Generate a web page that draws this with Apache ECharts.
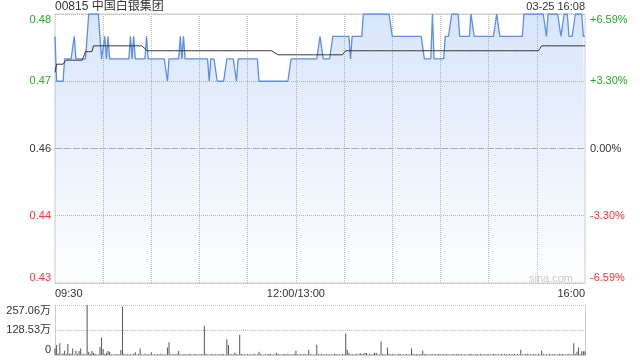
<!DOCTYPE html>
<html><head><meta charset="utf-8">
<script src="https://cdn.jsdelivr.net/npm/echarts@6/dist/echarts.min.js"></script>
<style>html,body{margin:0;padding:0;background:#fff}#c{width:640px;height:360px}</style>
</head><body><div id="c"></div>
<script>
const titleText = '00815 中国白银集团';
const dateText = '03-25 16:08';
const prevClose = 0.455;
const yTicks = [0.425, 0.44, 0.455, 0.47, 0.485];
const leftLabels = ['0.43', '0.44', '0.46', '0.47', '0.48'];
const rightLabels = ['-6.59%', '-3.30%', '0.00%', '+3.30%', '+6.59%'];
const labelColors = ['#ff3333', '#ff3333', '#333333', '#22aa22', '#22aa22'];
const xLabelIdx = [0, 150, 330];
const xLabelText = ['09:30', '12:00/13:00', '16:00'];
const volTicks = [0, 128.53, 257.06];
const volLabels = ['0', '128.53万', '257.06万'];

const price = [
0.48,0.47,0.47,0.47,0.47,0.47,0.475,0.475,0.475,0.475,
0.475,0.475,0.48,0.475,0.475,0.475,0.475,0.475,0.475,0.475,
0.48,0.485,0.485,0.485,0.485,0.485,0.485,0.485,0.485,0.475,
0.475,0.48,0.475,0.48,0.475,0.475,0.475,0.475,0.475,0.475,
0.475,0.475,0.475,0.475,0.475,0.475,0.475,0.48,0.475,0.48,
0.475,0.475,0.475,0.475,0.475,0.475,0.475,0.48,0.475,0.475,
0.475,0.475,0.475,0.475,0.475,0.475,0.475,0.475,0.475,0.475,
0.47,0.475,0.475,0.475,0.475,0.475,0.475,0.475,0.48,0.475,
0.48,0.475,0.475,0.475,0.475,0.475,0.475,0.475,0.475,0.475,
0.475,0.475,0.475,0.475,0.475,0.475,0.47,0.475,0.475,0.475,
0.475,0.47,0.47,0.47,0.47,0.47,0.47,0.475,0.475,0.475,
0.475,0.475,0.475,0.47,0.475,0.475,0.475,0.475,0.475,0.475,
0.475,0.475,0.475,0.475,0.475,0.475,0.475,0.47,0.47,0.47,
0.47,0.47,0.47,0.47,0.47,0.47,0.47,0.47,0.47,0.47,
0.47,0.47,0.47,0.47,0.47,0.47,0.47,0.475,0.475,0.475,
0.475,0.475,0.475,0.475,0.475,0.475,0.475,0.475,0.475,0.475,
0.475,0.475,0.475,0.475,0.475,0.48,0.48,0.475,0.475,0.475,
0.475,0.475,0.475,0.48,0.48,0.48,0.48,0.48,0.48,0.48,
0.48,0.48,0.48,0.48,0.475,0.48,0.48,0.48,0.48,0.48,
0.48,0.48,0.485,0.485,0.485,0.485,0.485,0.485,0.485,0.485,
0.485,0.485,0.485,0.485,0.485,0.485,0.485,0.485,0.485,0.485,
0.48,0.48,0.48,0.48,0.48,0.48,0.48,0.48,0.48,0.48,
0.48,0.48,0.48,0.48,0.48,0.48,0.48,0.48,0.48,0.48,
0.475,0.475,0.475,0.475,0.475,0.485,0.475,0.475,0.475,0.475,
0.475,0.475,0.475,0.48,0.48,0.48,0.48,0.485,0.485,0.485,
0.485,0.485,0.48,0.48,0.48,0.48,0.48,0.48,0.48,0.485,
0.485,0.48,0.48,0.48,0.48,0.48,0.48,0.48,0.48,0.48,
0.48,0.48,0.48,0.48,0.48,0.485,0.485,0.48,0.48,0.48,
0.48,0.48,0.48,0.48,0.48,0.48,0.48,0.48,0.48,0.48,
0.48,0.48,0.485,0.485,0.485,0.485,0.485,0.485,0.485,0.485,
0.485,0.485,0.485,0.485,0.485,0.485,0.48,0.485,0.485,0.485,
0.485,0.485,0.485,0.485,0.485,0.48,0.48,0.485,0.485,0.485,
0.48,0.48,0.48,0.48,0.485,0.485,0.485,0.485,0.485,0.48,
0.48
];

const avg = [
0.472,0.4738,0.4738,0.4738,0.4738,0.4738,0.4738,0.4747,0.4747,0.4747,
0.4747,0.4747,0.4747,0.4747,0.4747,0.4747,0.4747,0.4747,0.4747,0.4766,
0.4766,0.4766,0.4766,0.4766,0.4779,0.4779,0.4779,0.4779,0.4779,0.4779,
0.4779,0.4779,0.4779,0.4779,0.4779,0.4779,0.4779,0.4779,0.4779,0.4779,
0.4779,0.4779,0.4779,0.4779,0.4779,0.4779,0.4779,0.4779,0.4779,0.4779,
0.4779,0.4779,0.4779,0.4779,0.4779,0.4779,0.4773,0.4768,0.4768,0.4768,
0.4768,0.4768,0.4768,0.4768,0.4768,0.4768,0.4768,0.4768,0.4768,0.4768,
0.4768,0.4768,0.4768,0.4768,0.4768,0.4768,0.4768,0.4768,0.4768,0.4768,
0.4768,0.4768,0.4768,0.4768,0.4768,0.4768,0.4768,0.4768,0.4768,0.4768,
0.4768,0.4768,0.4768,0.4768,0.4768,0.4768,0.4768,0.4768,0.4768,0.4768,
0.4768,0.4768,0.4768,0.4768,0.4768,0.4768,0.4768,0.4768,0.4768,0.4768,
0.4768,0.4768,0.4768,0.4768,0.4768,0.4768,0.4768,0.4768,0.4768,0.4768,
0.4768,0.4768,0.4768,0.4768,0.4768,0.4768,0.4768,0.4768,0.4768,0.4768,
0.4768,0.4768,0.4768,0.4768,0.4768,0.4768,0.4768,0.4763,0.4759,0.4759,
0.4759,0.4759,0.4759,0.4759,0.4759,0.4759,0.4759,0.4759,0.4759,0.4759,
0.4759,0.4759,0.4759,0.4759,0.4759,0.4759,0.4759,0.4759,0.4759,0.4759,
0.4759,0.4759,0.4759,0.4759,0.4759,0.4759,0.4759,0.4759,0.4759,0.4759,
0.4759,0.4759,0.4759,0.4759,0.4759,0.4759,0.4759,0.4759,0.4759,0.4759,
0.4763,0.4768,0.4768,0.4768,0.4768,0.4768,0.4768,0.4768,0.4768,0.4768,
0.4768,0.4768,0.4768,0.4768,0.4768,0.4768,0.4768,0.4768,0.4768,0.4768,
0.4768,0.4768,0.4768,0.4768,0.4768,0.4768,0.4768,0.4768,0.4768,0.4768,
0.4768,0.4768,0.4768,0.4768,0.4768,0.4768,0.4768,0.4768,0.4768,0.4768,
0.4768,0.4768,0.4768,0.4768,0.4768,0.4768,0.4768,0.4768,0.4768,0.4768,
0.4768,0.4768,0.4768,0.4768,0.4768,0.4768,0.4768,0.4768,0.4768,0.4768,
0.4768,0.4768,0.4768,0.4768,0.4768,0.4768,0.4768,0.4768,0.4768,0.4768,
0.4768,0.4768,0.4768,0.4768,0.4768,0.4768,0.4768,0.4768,0.4768,0.4768,
0.4768,0.4768,0.4768,0.4768,0.4768,0.4768,0.4768,0.4768,0.4768,0.4768,
0.4768,0.4768,0.4768,0.4768,0.4768,0.4768,0.4768,0.4768,0.4768,0.4768,
0.4768,0.4768,0.4768,0.4768,0.4768,0.4768,0.4768,0.4768,0.4768,0.4768,
0.4768,0.4768,0.4768,0.4768,0.4768,0.4768,0.4768,0.4768,0.4768,0.4768,
0.4768,0.4768,0.4773,0.4779,0.4779,0.4779,0.4779,0.4779,0.4779,0.4779,
0.4779,0.4779,0.4779,0.4779,0.4779,0.4779,0.4779,0.4779,0.4779,0.4779,
0.4779,0.4779,0.4779,0.4779,0.4779,0.4779,0.4779,0.4779,0.4779,0.4779,
0.4779
];

const volume = [
34,51,8,60,4,9,22,5,57,6,
8,34,3,22,5,20,34,4,6,3,
257.06,17,5,20,12,6,3,4,43,91,
31,5,12,20,17,4,3,2,5,3,
4,26,248,6,3,5,2,4,3,6,
14,3,5,34,4,2,6,3,5,2,
14,3,4,2,5,3,6,2,4,3,
39,65,4,3,5,2,6,20,3,4,
2,5,3,4,6,2,3,5,4,2,
3,5,4,149,6,3,2,4,5,3,
4,2,5,3,6,4,3,81,51,5,
3,4,13,5,2,104,6,3,4,2,
5,3,4,2,6,3,4,17,5,3,
2,4,3,5,6,2,3,4,12,5,
3,2,4,5,3,6,2,4,3,5,
22,4,3,5,2,6,3,4,27,5,
3,2,4,53,5,3,6,2,4,3,
5,2,4,3,6,5,2,4,3,5,
4,110,27,10,3,5,2,4,6,3,
10,4,5,10,10,3,6,2,5,12,
12,4,3,70,5,2,4,38,6,3,
5,4,2,3,6,5,3,4,2,5,
3,4,34,6,2,5,3,4,5,22,
4,6,3,2,5,4,3,5,2,6,
3,4,5,2,6,3,4,2,5,3,
4,6,2,5,3,4,2,3,5,6,
3,2,4,5,3,6,2,4,3,5,
4,3,2,6,5,3,4,2,5,3,
6,4,3,5,2,4,6,3,5,2,
27,4,3,5,6,2,4,3,5,4,
3,6,2,22,5,3,4,2,6,3,
5,4,3,2,6,4,5,3,2,4,
6,3,4,60,5,17,39,4,19,19,
19
];

// minute categories: 09:30-11:59 then 13:00-16:00
const cats = [];
function pad(n){return (n<10?'0':'')+n;}
for (let t = 9*60+30; t < 12*60; t++) cats.push(pad(Math.floor(t/60))+':'+pad(t%60));
for (let t = 13*60; t <= 16*60; t++) cats.push(pad(Math.floor(t/60))+':'+pad(t%60));

const FONT = '"Liberation Sans", Arial, "Noto Sans CJK SC", sans-serif';
function tickIndex(v, arr){ for (let k=0;k<arr.length;k++){ if (Math.abs(arr[k]-v) < 1e-6) return k; } return -1; }
const dotted = {color: '#bbbbbb', type: 'dotted', width: 1};

const chart = echarts.init(document.getElementById('c'), null, {renderer:'canvas'});
chart.setOption({
  animation: false,
  textStyle: {fontFamily: FONT},
  title: [
    {text: titleText, left: 55, top: 1, padding: 0, textStyle: {fontSize: 12, fontWeight: 'normal', color: '#333', fontFamily: FONT}},
    {text: dateText, right: 55, top: 1, padding: 0, textStyle: {fontSize: 11, fontWeight: 'normal', color: '#333', fontFamily: FONT}},
    {text: 'sina.com', right: 67, top: 273, padding: 0, textStyle: {fontSize: 11, fontWeight: 'normal', color: '#cccccc', fontFamily: FONT}}
  ],
  grid: [
    {left: 55, right: 55, top: 14, bottom: 77, show: true, borderColor: '#cccccc', borderWidth: 1, backgroundColor: 'transparent'},
    {left: 55, right: 55, top: 305, bottom: 5}
  ],
  xAxis: [
    {type: 'category', gridIndex: 0, data: cats, boundaryGap: false,
     axisLine: {show: false}, axisTick: {show: false},
     axisLabel: {interval: function(i){ return xLabelIdx.indexOf(i) >= 0; },
       formatter: function(v, i){ const k = xLabelIdx.indexOf(i); return k >= 0 ? xLabelText[k] : ''; },
       alignMinLabel: 'left', alignMaxLabel: 'right', showMinLabel: true, showMaxLabel: true,
       margin: 5, fontSize: 11, color: '#333', fontFamily: FONT},
     splitLine: {show: true, interval: function(i){ return i % 30 === 0 && i !== 0 && i !== 330; },
       lineStyle: dotted}},
    {type: 'category', gridIndex: 1, data: cats, boundaryGap: false,
     axisLine: {show: true, lineStyle: {color: '#cccccc'}}, axisTick: {show: false},
     axisLabel: {show: false}, splitLine: {show: false}}
  ],
  yAxis: [
    {type: 'value', gridIndex: 0, min: yTicks[0], max: yTicks[yTicks.length-1], position: 'left',
     axisLine: {show: false}, axisTick: {show: false, customValues: yTicks},
     axisLabel: {customValues: yTicks, margin: 4, fontSize: 11, fontFamily: FONT,
       verticalAlignMinLabel: 'bottom', verticalAlignMaxLabel: 'top',
       formatter: function(v){ const k = tickIndex(v, yTicks); return k >= 0 ? leftLabels[k] : ''; },
       color: function(v){ const k = tickIndex(v, yTicks); return k >= 0 ? labelColors[k] : '#333'; }},
     splitLine: {show: true, lineStyle: dotted}},
    {type: 'value', gridIndex: 0, min: yTicks[0], max: yTicks[yTicks.length-1], position: 'right',
     axisLine: {show: false}, axisTick: {show: false, customValues: yTicks},
     axisLabel: {customValues: yTicks, margin: 5, fontSize: 11, fontFamily: FONT,
       verticalAlignMinLabel: 'bottom', verticalAlignMaxLabel: 'top',
       formatter: function(v){ const k = tickIndex(v, yTicks); return k >= 0 ? rightLabels[k] : ''; },
       color: function(v){ const k = tickIndex(v, yTicks); return k >= 0 ? labelColors[k] : '#333'; }},
     splitLine: {show: false}},
    {type: 'value', gridIndex: 1, min: volTicks[0], max: volTicks[2], interval: volTicks[1], position: 'left',
     axisLine: {show: true, lineStyle: {color: '#cccccc'}}, axisTick: {show: false},
     axisLabel: {margin: 4, fontSize: 11, color: '#333', fontFamily: FONT,
       verticalAlignMinLabel: 'bottom', verticalAlignMaxLabel: 'top',
       formatter: function(v){ const k = tickIndex(v, volTicks); return k >= 0 ? volLabels[k] : ''; }},
     splitLine: {show: true, lineStyle: dotted}},
    {type: 'value', gridIndex: 1, min: volTicks[0], max: volTicks[2], interval: volTicks[1], position: 'right',
     axisLine: {show: true, lineStyle: {color: '#cccccc'}}, axisTick: {show: false},
     axisLabel: {show: false}, splitLine: {show: false}}
  ],
  series: [
    {type: 'line', xAxisIndex: 0, yAxisIndex: 0, data: price, showSymbol: false, symbol: 'none',
     lineStyle: {color: '#5b8fe9', width: 1.3},
     areaStyle: {origin: 'start', color: new echarts.graphic.LinearGradient(0, 0, 0, 1, [
        {offset: 0, color: 'rgba(74,134,232,0.3)'}, {offset: 1, color: 'rgba(74,134,232,0.01)'}])},
     markLine: {silent: true, symbol: 'none', label: {show: false}, precision: 4,
       lineStyle: {color: '#aaaaaa', type: [6, 3], width: 1},
       data: [{yAxis: prevClose}]}},
    {type: 'line', xAxisIndex: 0, yAxisIndex: 0, data: avg, showSymbol: false, symbol: 'none',
     lineStyle: {color: '#333333', width: 1}},
    {type: 'bar', xAxisIndex: 1, yAxisIndex: 2, data: volume, barWidth: 1,
     itemStyle: {color: '#555555'}}
  ]
});
</script>
</body></html>
